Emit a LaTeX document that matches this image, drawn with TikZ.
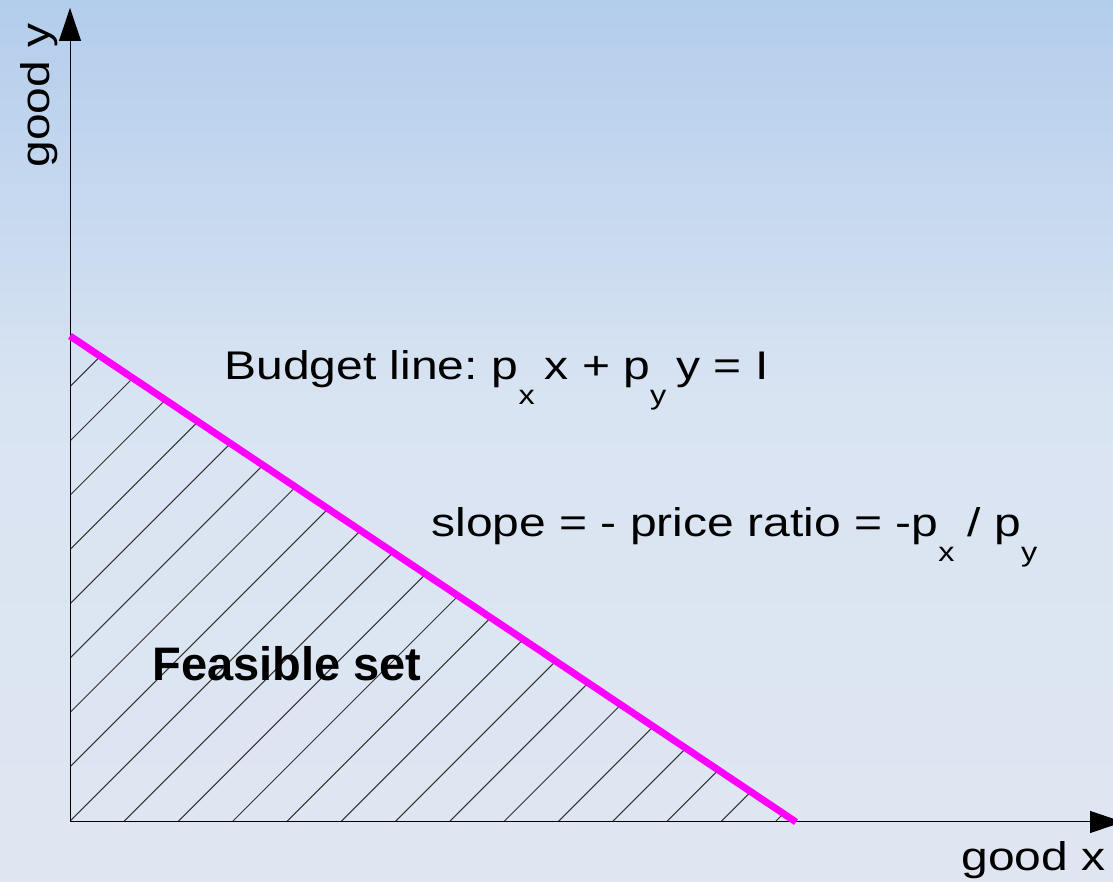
\documentclass[tikz,border=0pt]{standalone}
\usepackage{fontspec}
\setmainfont{Liberation Sans}
\newfontfamily\widesans[FakeStretch=1.2, WordSpace=1.0]{Liberation Sans}
\usetikzlibrary{arrows.meta}
\definecolor{bgtop}{RGB}{179,205,236}
\definecolor{bgmid}{RGB}{217,228,242}
\definecolor{bgbot}{RGB}{223,230,242}
\definecolor{budget}{RGB}{255,0,255}
\newcommand{\lowsub}[1]{\raisebox{-0.62em}{\fontsize{13.5}{14}\selectfont #1}}
\tikzset{
  axis/.style={line width=0.5pt, -{Triangle[length=16.5pt, width=11pt]}},
  hatch/.style={line width=0.5pt, black!80},
  label/.style={font=\widesans\fontsize{20}{24}\selectfont, inner sep=0pt},
}
\begin{document}
\begin{tikzpicture}[x=0.5pt, y=0.5pt]
  \useasboundingbox (0,0) rectangle (1113,882);
  % Background
  \shade[top color=bgtop, bottom color=bgmid] (0,480) rectangle (1113,882);
  \shade[top color=bgmid, bottom color=bgbot] (0,0) rectangle (1113,480);
  % Feasible set hatching
  \begin{scope}
    \clip (70,60) -- (70,546) -- (796,60) -- cycle;
    \foreach \k in {0,...,21}
      \draw[hatch] (0,425.3-54.3*\k) -- (1000,1425.3-54.3*\k);
  \end{scope}
  % Axes
  \coordinate (origin) at (70,60);
  \coordinate (ytip) at (70,874);
  \coordinate (xtip) at (1123,60);
  \draw[axis] (origin) -- (ytip);
  \draw[axis] (origin) -- (xtip);
  \node[label, anchor=base west, rotate=90] (ylabel) at (50,714) {good y};
  \node[label, anchor=base west] (xlabel) at (961,11) {good x};
  % Budget line
  \coordinate (ymax) at (70,546);
  \coordinate (xmax) at (796,60);
  \draw[budget, line width=3.5pt] (ymax) -- (xmax);
  \node[label, anchor=base west] (budgettext) at (224,502)
    {Budget line:\hspace{0.35em}p\lowsub{x}\hspace{0.25em}x + p\lowsub{y}\hspace{0.25em}y = I};
  \node[label, anchor=base west] (slopetext) at (431,345)
    {slope = - price ratio = -p\lowsub{x} / p\lowsub{y}};
  \node[font=\fontsize{23.5}{28}\selectfont\bfseries, inner sep=0pt, anchor=base west] (feasible) at (152,201) {Feasible set};
\end{tikzpicture}
\end{document}
